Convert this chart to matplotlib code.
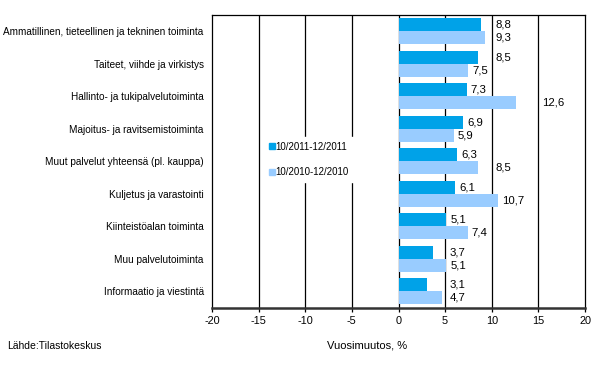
import matplotlib
matplotlib.use("Agg")
import matplotlib.pyplot as plt
from matplotlib.lines import Line2D

plt.rcParams['font.family'] = ['Liberation Sans', 'DejaVu Sans']
plt.rcParams['font.size'] = 7
plt.rcParams['axes.unicode_minus'] = False

categories = [
    "Ammatillinen, tieteellinen ja tekninen toiminta",
    "Taiteet, viihde ja virkistys",
    "Hallinto- ja tukipalvelutoiminta",
    "Majoitus- ja ravitsemistoiminta",
    "Muut palvelut yhteensä (pl. kauppa)",
    "Kuljetus ja varastointi",
    "Kiinteistöalan toiminta",
    "Muu palvelutoiminta",
    "Informaatio ja viestintä",
]
q4_2011 = [8.8, 8.5, 7.3, 6.9, 6.3, 6.1, 5.1, 3.7, 3.1]
q4_2010 = [9.3, 7.5, 12.6, 5.9, 8.5, 10.7, 7.4, 5.1, 4.7]
series_names = ["10/2011-12/2011", "10/2010-12/2010"]
xticks = [-20, -15, -10, -5, 0, 5, 10, 15, 20]

dark = "#00A2E8"
light = "#99CCFF"

fig = plt.figure(figsize=(6, 3.73), dpi=100)
ax = fig.add_axes([212 / 600, 1 - 308 / 373, 373 / 600, 293 / 373])

n = len(categories)
pos = list(range(n))
h = 0.4

for g in xticks[1:-1]:
    ax.axvline(g, color="black", lw=0.9, zorder=1)

ax.barh([p - h / 2 for p in pos], q4_2011, height=h, color=dark, zorder=2)
ax.barh([p + h / 2 for p in pos], q4_2010, height=h, color=light, zorder=2)


def put_label(v, y):
    # value label right of the bar, pushed past a gridline if it would cross one
    txt = f"{v:.1f}".replace(".", ",")
    x0 = v + 0.45
    w = len(txt) * 0.5
    for g in xticks:
        if v < g < x0 + w:
            x0 = g + 0.45
            break
    ax.text(x0, y, txt, ha="left", va="center", fontsize=8.2, zorder=3)


for p, a, b in zip(pos, q4_2011, q4_2010):
    put_label(a, p - h / 2)
    put_label(b, p + h / 2)

ax.set_xlim(-20, 20)
ax.set_ylim(n - 0.5 + 0.02, -0.5)
ax.set_xticks(xticks)
ax.set_xticklabels([str(t) for t in xticks], fontsize=7.8)
ax.set_yticks(pos)
ax.set_yticklabels(categories, fontsize=7.2)
ax.tick_params(axis="y", length=0, pad=6)
ax.tick_params(axis="x", length=3, width=0.9, pad=3, direction="out")

for s in ["top", "left", "right"]:
    ax.spines[s].set_linewidth(0.9)
    ax.spines[s].set_color("black")
ax.spines["bottom"].set_linewidth(1.8)
ax.spines["bottom"].set_color("#333333")

handles = [
    Line2D([], [], marker="s", ls="", color=dark, markersize=4),
    Line2D([], [], marker="s", ls="", color=light, markersize=4),
]
leg = ax.legend(handles, series_names, loc="upper left",
                bbox_to_anchor=(259 / 600, 1 - 132 / 373), bbox_transform=fig.transFigure,
                frameon=True, fancybox=False, edgecolor="white", facecolor="white",
                framealpha=1, handlelength=0.6, handletextpad=0.1, labelspacing=1.6,
                borderpad=0.5, fontsize=7)
leg.set_zorder(5)

fig.text(367 / 600, 1 - 346 / 373, "Vuosimuutos, %", ha="center", va="center", fontsize=8)
fig.text(7 / 600, 1 - 346 / 373, "Lähde:Tilastokeskus", ha="left", va="center", fontsize=7.5)

fig.savefig("out.png", dpi=100)
